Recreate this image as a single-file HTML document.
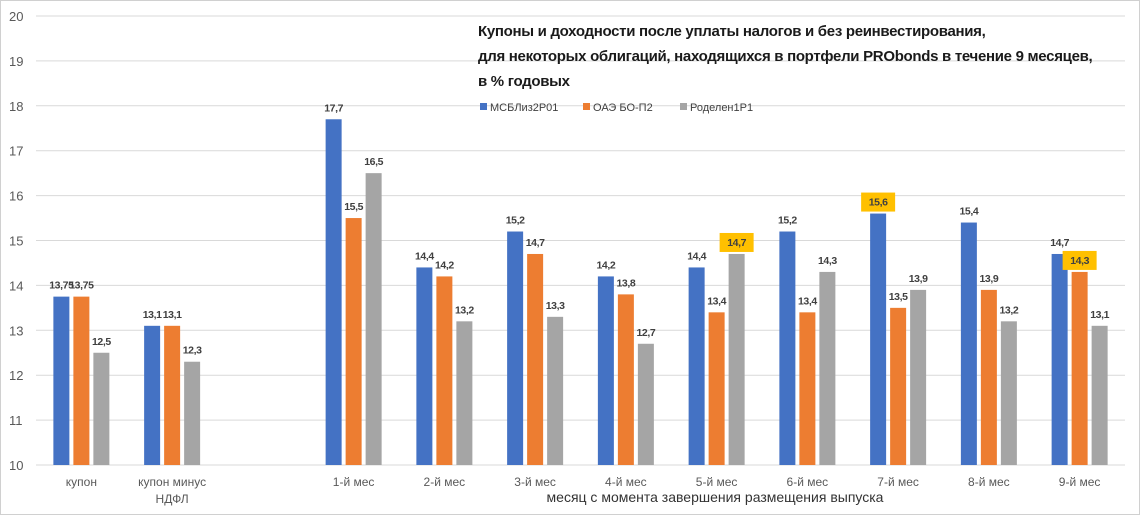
<!DOCTYPE html>
<html><head><meta charset="utf-8"><style>
body{margin:0;background:#fff;}
svg{display:block;font-family:"Liberation Sans","DejaVu Sans",sans-serif;}
</style></head><body>
<svg id="chart" width="1140" height="515" viewBox="0 0 1140 515">
<rect x="0.5" y="0.5" width="1139" height="514" fill="#fff" stroke="#d0d0d0"/>
<g id="grid"></g>
<g id="bars"></g>
<g id="labels"></g>
<g id="xlabels"></g>
<text x="478" y="36" font-size="15" font-weight="bold" fill="#1a1a1a" letter-spacing="-0.3">Купоны и доходности после уплаты налогов и без реинвестирования,</text>
<text x="478" y="61" font-size="15" font-weight="bold" fill="#1a1a1a" letter-spacing="-0.3">для некоторых облигаций, находящихся в портфели PRObonds в течение 9 месяцев,</text>
<text x="478" y="86" font-size="15" font-weight="bold" fill="#1a1a1a" letter-spacing="-0.3">в % годовых</text>
<g>
<rect x="480" y="103" width="7" height="7" fill="#4472c4"/>
<text x="490" y="111" font-size="11" fill="#404040">МСБЛиз2Р01</text>
<rect x="583" y="103" width="7" height="7" fill="#ed7d31"/>
<text x="593" y="111" font-size="11" fill="#404040">ОАЭ  БО-П2</text>
<rect x="680" y="103" width="7" height="7" fill="#a5a5a5"/>
<text x="690" y="111" font-size="11" fill="#404040">Роделен1Р1</text>
</g>
<text x="715" y="502" font-size="14" fill="#333" text-anchor="middle">месяц с момента завершения размещения выпуска</text>
</svg>
<script>
const categories=["купон","купон минус|НДФЛ","","1-й мес","2-й мес","3-й мес","4-й мес","5-й мес","6-й мес","7-й мес","8-й мес","9-й мес"];
const msbValues=[13.75,13.1,null,17.7,14.4,15.2,14.2,14.4,15.2,15.6,15.4,14.7];
const oaeValues=[13.75,13.1,null,15.5,14.2,14.7,13.8,13.4,13.4,13.5,13.9,14.3];
const rodelenValues=[12.5,12.3,null,16.5,13.2,13.3,12.7,14.7,14.3,13.9,13.2,13.1];
const msbLabels=["13,75","13,1","","17,7","14,4","15,2","14,2","14,4","15,2","15,6","15,4","14,7"];
const oaeLabels=["13,75","13,1","","15,5","14,2","14,7","13,8","13,4","13,4","13,5","13,9","14,3"];
const rodelenLabels=["12,5","12,3","","16,5","13,2","13,3","12,7","14,7","14,3","13,9","13,2","13,1"];
const yTicks=[10,11,12,13,14,15,16,17,18,19,20];
const highlights=[[7,2],[9,0],[11,1]];

const NS="http://www.w3.org/2000/svg";
const x0=36,x1=1125,yMin=10,yMax=20,py0=465,py1=16;
const slot=(x1-x0)/categories.length;
function xScale(i){return x0+slot*(i+0.5);}
function yScale(v){return py0-(v-yMin)/(yMax-yMin)*(py0-py1);}
function mk(tag,attrs,parent){const e=document.createElementNS(NS,tag);for(const k in attrs)e.setAttribute(k,attrs[k]);parent.appendChild(e);return e;}
const grid=document.getElementById('grid'),bars=document.getElementById('bars'),labels=document.getElementById('labels'),xl=document.getElementById('xlabels');
yTicks.forEach(t=>{
  const y=yScale(t);
  const l=mk('line',{x1:x0,x2:x1,y1:y,y2:y,stroke:'#d9d9d9','stroke-width':1},grid);
  
  
  const tx=mk('text',{x:9,y:y+5,'font-size':13,fill:'#595959'},grid);
  tx.textContent=t;
  
  
});
const series=[[msbValues,msbLabels,'#4472c4','msb'],[oaeValues,oaeLabels,'#ed7d31','oae'],[rodelenValues,rodelenLabels,'#a5a5a5','rodelen']];
categories.forEach((c,i)=>{
  const cx=xScale(i);
  if(c){
    const parts=c.split('|');
    parts.forEach((p,k)=>{
      const t=mk('text',{x:cx,y:486+k*17,'font-size':12,fill:'#595959','text-anchor':'middle'},xl);
      t.textContent=p;
      
      
    });
  }
  series.forEach((s,j)=>{
    const v=s[0][i];if(v==null)return;
    const bx=cx+(j-1)*20-8,by=yScale(v);
    const r=mk('rect',{x:bx,y:by,width:16,height:py0-by,fill:s[2]},bars);
    
    
    const hl=highlights.some(h=>h[0]===i&&h[1]===j);
    const lx=bx+8,ly=by-8;
    if(hl){
      const b=mk('rect',{x:lx-17,y:ly-13,width:34,height:19,fill:'#ffc000'},labels);
      
      
    }
    const t=mk('text',{x:lx,y:ly,'font-size':10.5,'font-weight':'bold',fill:'#404040','text-anchor':'middle','letter-spacing':'-0.4'},labels);
    t.textContent=s[1][i];
    
    
  });
});
</script>
</body></html>
